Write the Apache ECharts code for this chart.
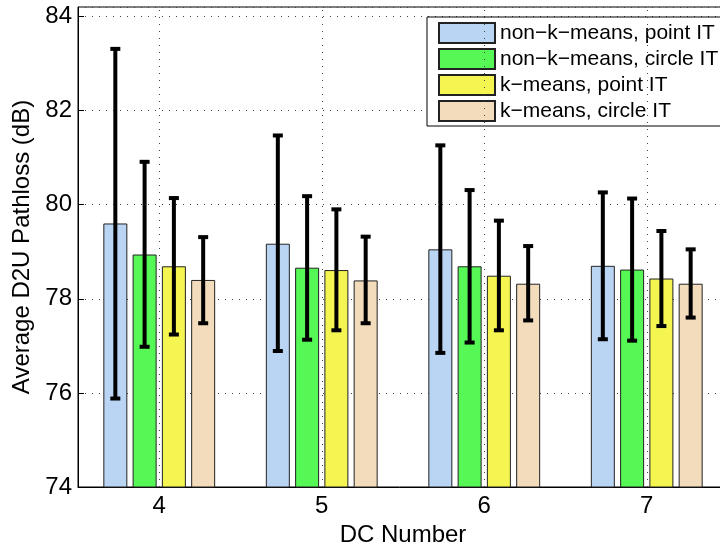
<!DOCTYPE html>
<html>
<head>
<meta charset="utf-8">
<script src="https://cdn.jsdelivr.net/npm/echarts@6/dist/echarts.min.js"></script>
<style>html,body{margin:0;padding:0;background:#fff;}#c{width:720px;height:548px;}</style>
</head>
<body>
<div id="c"></div>
<script>
const categories = ['4', '5', '6', '7'];
const seriesNames = ['non\u2212k\u2212means, point IT', 'non\u2212k\u2212means, circle IT', 'k\u2212means, point IT', 'k\u2212means, circle IT'];
const colors = ['#BAD4F4', '#55F855', '#F5F552', '#F2DCBB'];

const meanNonKPoint  = [79.60, 79.17, 79.05, 78.70];
const lowNonKPoint   = [75.88, 76.89, 76.85, 77.14];
const highNonKPoint  = [83.31, 81.47, 81.26, 80.26];

const meanNonKCircle = [78.94, 78.66, 78.69, 78.62];
const lowNonKCircle  = [76.98, 77.13, 77.07, 77.11];
const highNonKCircle = [80.91, 80.18, 80.31, 80.13];

const meanKPoint     = [78.69, 78.61, 78.49, 78.43];
const lowKPoint      = [77.24, 77.33, 77.33, 77.42];
const highKPoint     = [80.14, 79.90, 79.66, 79.44];

const meanKCircle    = [78.40, 78.39, 78.32, 78.32];
const lowKCircle     = [77.48, 77.48, 77.54, 77.60];
const highKCircle    = [79.31, 79.32, 79.12, 79.05];

const yTicks = { min: 74, max: 84.2, interval: 2 };

const means = [meanNonKPoint, meanNonKCircle, meanKPoint, meanKCircle];
const lows = [lowNonKPoint, lowNonKCircle, lowKPoint, lowKCircle];
const highs = [highNonKPoint, highNonKCircle, highKPoint, highKCircle];

const FONT = "'Liberation Sans', Arial, Helvetica, sans-serif";
const BAR_W = 24;
const GAP_RATIO = 0.22;
const nBars = 4;

function barOffset(i) {
  const gap = BAR_W * GAP_RATIO;
  const total = nBars * BAR_W + (nBars - 1) * gap;
  return -total / 2 + BAR_W / 2 + i * (BAR_W + gap);
}

const series = [];
series.push({
  type: 'line', data: [], z: 1, silent: true,
  markLine: {
    silent: true, symbol: ['none', 'none'], label: { show: false },
    lineStyle: { color: '#444', type: [1, 6], width: 1 },
    data: categories.map(c => ({ xAxis: c }))
  }
});
for (let i = 0; i < 4; i++) {
  series.push({
    name: seriesNames[i], type: 'bar', data: means[i],
    barWidth: BAR_W, barGap: (GAP_RATIO * 100) + '%', z: 2,
    itemStyle: { color: colors[i], borderColor: '#222', borderWidth: 1 }
  });
}
for (let i = 0; i < 4; i++) {
  series.push({
    type: 'custom', z: 5, silent: true,
    encode: { x: 0, y: [1, 2] },
    data: categories.map((c, k) => [k, lows[i][k], highs[i][k]]),
    renderItem: (params, api) => {
      const x = api.value(0);
      const lo = api.coord([x, api.value(1)]);
      const hi = api.coord([x, api.value(2)]);
      const cx = lo[0] + barOffset(i);
      const cap = 5;
      const st = { stroke: '#000', lineWidth: 4 };
      return {
        type: 'group',
        children: [
          { type: 'line', shape: { x1: cx, y1: lo[1], x2: cx, y2: hi[1] }, style: st },
          { type: 'line', shape: { x1: cx - cap, y1: lo[1], x2: cx + cap, y2: lo[1] }, style: st },
          { type: 'line', shape: { x1: cx - cap, y1: hi[1], x2: cx + cap, y2: hi[1] }, style: st }
        ]
      };
    }
  });
}

const chart = echarts.init(document.getElementById('c'), null, { renderer: 'canvas' });
chart.setOption({
  animation: false,
  backgroundColor: '#fff',
  textStyle: { fontFamily: FONT, color: '#000' },
  grid: { left: 78, top: 7, width: 650, bottom: 61, show: true, borderColor: '#000', borderWidth: 1, backgroundColor: 'transparent', containLabel: false, outerBoundsMode: 'none' },
  legend: {
    data: seriesNames,
    orient: 'vertical', left: 427, top: 17,
    itemWidth: 56, itemHeight: 20, itemGap: 4,
    padding: [5, 5, 4, 11],
    backgroundColor: '#fff', borderColor: '#000', borderWidth: 1,
    icon: 'rect',
    textStyle: { fontFamily: FONT, fontSize: 21, color: '#000' }
  },
  xAxis: [{
    type: 'category', data: categories, position: 'bottom',
    name: 'DC Number', nameLocation: 'middle', nameGap: 32,
    nameTextStyle: { fontFamily: FONT, fontSize: 24, color: '#000' },
    axisLine: { lineStyle: { color: '#000', width: 1 } },
    axisTick: { inside: true, alignWithLabel: true, length: 6, lineStyle: { color: '#000' } },
    axisLabel: { fontFamily: FONT, fontSize: 24, color: '#000', margin: 7 },
    splitLine: { show: false }
  }, {
    type: 'category', data: categories, position: 'top',
    axisLine: { show: false },
    axisTick: { inside: true, alignWithLabel: true, length: 6, lineStyle: { color: '#000' } },
    axisLabel: { show: false }, splitLine: { show: false }
  }],
  yAxis: {
    type: 'value', min: yTicks.min, max: yTicks.max, interval: yTicks.interval,
    name: 'Average D2U Pathloss (dB)', nameLocation: 'middle', nameGap: 40, nameRotate: 90,
    nameTextStyle: { fontFamily: FONT, fontSize: 24, color: '#000' },
    axisLine: { show: true, lineStyle: { color: '#000', width: 1 } },
    axisTick: { show: true, inside: true, length: 6, lineStyle: { color: '#000' } },
    axisLabel: { fontFamily: FONT, fontSize: 24, color: '#000', margin: 6, showMaxLabel: false },
    splitLine: { show: true, lineStyle: { color: '#444', type: [1, 6], width: 1 } }
  },
  series: series
});
</script>
</body>
</html>
